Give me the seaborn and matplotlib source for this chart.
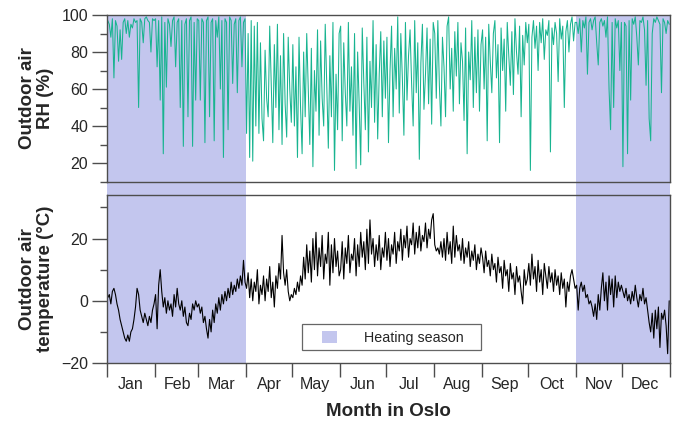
import numpy as np
import pandas as pd
import matplotlib
matplotlib.use('Agg')
import matplotlib.pyplot as plt
import matplotlib.dates as mdates
import matplotlib.transforms as mtransforms
from matplotlib.patches import Rectangle, Patch
from matplotlib.ticker import NullFormatter
import seaborn as sns

# daily values (one per day, 365-day year)
rh = [
    97, 95, 88, 98, 66, 97, 94, 75, 92, 76, 96, 98, 90, 97, 88, 95, 93, 98, 96, 97, 50, 98, 96, 85, 98, 99, 97, 96, 80, 98, 97,  # Jan
    98, 72, 97, 54, 99, 25, 96, 61, 98, 95, 83, 97, 99, 72, 96, 98, 50, 97, 29, 95, 98, 45, 97, 99, 29, 96, 54, 98,  # Feb
    97, 54, 98, 96, 31, 97, 99, 45, 96, 98, 32, 97, 88, 99, 60, 97, 23, 98, 96, 38, 99, 97, 63, 95, 98, 58, 97, 99, 72, 96, 98,  # Mar
    36, 90, 23, 97, 21, 94, 40, 96, 36, 85, 44, 32, 81, 55, 45, 94, 62, 31, 84, 50, 95, 38, 78, 30, 90, 52, 34, 88, 60, 42,  # Apr
    84, 40, 72, 23, 88, 50, 25, 80, 45, 90, 60, 30, 82, 18, 70, 48, 92, 35, 86, 55, 40, 95, 62, 28, 78, 45, 96, 16, 68, 38, 90,  # May
    94, 32, 85, 58, 40, 96, 48, 72, 35, 90, 17, 80, 52, 19, 93, 64, 38, 88, 26, 75, 50, 97, 42, 84, 33, 68, 91, 45, 86, 55,  # Jun
    88, 31, 70, 94, 45, 82, 60, 99, 47, 90, 66, 35, 96, 54, 78, 92, 63, 40, 97, 58, 85, 22, 74, 95, 49, 68, 93, 52, 87, 41, 96,  # Jul
    90, 55, 97, 62, 40, 88, 72, 45, 94, 99, 60, 82, 48, 91, 67, 96, 52, 85, 75, 43, 93, 25, 80, 65, 97, 50, 88, 58, 92, 48, 84,  # Aug
    92, 60, 88, 32, 95, 75, 58, 90, 97, 66, 84, 31, 93, 70, 87, 48, 96, 78, 62, 91, 57, 98, 80, 68, 94, 45, 89, 73, 96, 85,  # Sep
    95, 16, 88, 97, 82, 94, 70, 96, 85, 98, 76, 92, 89, 97, 26, 93, 84, 96, 90, 64, 98, 87, 94, 50, 91, 97, 80, 95, 99, 86, 96,  # Oct
    96, 90, 98, 80, 97, 93, 99, 68, 96, 98, 92, 97, 99, 85, 73, 96, 98, 94, 97, 88, 99, 60, 38, 96, 50, 98, 93, 97, 70, 96,  # Nov
    18, 96, 94, 25, 97, 54, 98, 95, 99, 88, 73, 97, 96, 99, 92, 62, 97, 44, 32, 90, 98, 96, 99, 97, 95, 58, 98, 96, 90, 97, 95,  # Dec
]

temp = [
    1, 2, -1, 3, 4, 2, -1, -3, -6, -8, -10, -12, -13, -11, -13, -10, -9, -6, -2, 4, 2, -3, -5, -7, -4, -6, -8, -5, -7, -3, -1,  # Jan
    2, -9, 5, 10, 3, -2, 1, -4, 0, -3, -1, -5, 2, -2, 4, -1, -3, 0, -5, -2, -7, -8, -4, -6, -1, -3, 0, -2,  # Feb
    -1, -4, -2, -7, -5, -9, -12, -6, -10, -3, -7, -1, -4, 1, -3, 2, -1, 3, 0, 4, 1, 6, 2, 5, 3, 7, 4, 8, 5, 13, 6,  # Mar
    4, 9, 1, 7, 0, 6, 3, 10, -1, 5, 2, 8, 0, 7, 3, 11, 1, 6, -2, 8, 4, 12, 7, 21, 9, 5, 10, 3, 0, 2,  # Apr
    1, 4, 2, 6, 3, 8, 5, 14, 7, 18, 9, 16, 6, 20, 10, 22, 8, 17, 11, 21, 7, 15, 12, 22, 5, 18, 9, 20, 11, 16, 8,  # May
    10, 19, 7, 17, 12, 21, 9, 15, 13, 20, 8, 18, 11, 22, 14, 19, 10, 23, 12, 26, 15, 20, 11, 18, 13, 21, 10, 17, 14, 22,  # Jun
    13, 20, 11, 18, 15, 22, 12, 19, 16, 23, 13, 21, 17, 24, 14, 20, 18, 25, 15, 22, 17, 24, 16, 21, 19, 25, 17, 23, 20, 26, 28,  # Jul
    18, 16, 17, 15, 19, 14, 20, 13, 22, 15, 19, 12, 24, 14, 21, 16, 18, 13, 20, 12, 17, 14, 19, 11, 16, 13, 18, 10, 15, 12, 17,  # Aug
    14, 9, 16, 11, 13, 8, 15, 10, 12, 6, 14, 9, 11, 4, 13, 8, 10, 3, 12, 7, 9, 2, 11, 6, 8, 3, -1, 10, 5, 7,  # Sep
    12, 5, 15, 7, 11, 3, 13, 6, 10, 2, 12, 8, 4, 11, 6, 9, 3, 10, 5, 8, 2, 9, 4, 7, -2, 6, 3, 8, 10, 7, 4,  # Oct
    5, -3, 4, 6, 3, 5, 1, 2, -1, 0, -2, -5, -1, -6, 2, -3, 4, 9, 0, 6, -3, 8, 2, 7, -2, 8, 1, 6, 3, 5,  # Nov
    3, 1, 4, 0, 2, -1, 3, 0, 5, 1, -2, 2, 0, 4, -1, 1, -3, -7, -10, -4, -12, -3, -9, -2, -15, -4, -6, -3, -8, -17, 0,  # Dec
]

heating_season = [('2019-01-01', '2019-04-01'), ('2019-11-01', '2020-01-01')]

shade = '#c3c6ee'
teal = '#18b490'
edge = '#4d4d4d'

df = pd.DataFrame({
    'date': pd.date_range('2019-01-01 12:00', periods=len(rh), freq='D'),
    'rh': rh,
    'temp': temp,
})

sns.set_style('ticks')
plt.rcParams['font.family'] = ['Liberation Sans', 'DejaVu Sans']

fig = plt.figure(figsize=(6.81, 4.29), dpi=100)
ax1 = fig.add_axes([0.1571, 0.5769, 0.8267, 0.3881])
ax2 = fig.add_axes([0.1571, 0.1538, 0.8267, 0.3917], sharex=ax1)

# heating season bands run through both panels and the gap between them
trans = mtransforms.blended_transform_factory(ax2.transData, fig.transFigure)
for start, end in heating_season:
    x0 = mdates.date2num(pd.Timestamp(start))
    x1 = mdates.date2num(pd.Timestamp(end))
    fig.add_artist(Rectangle((x0, 0.1538), x1 - x0, 0.965 - 0.1538, transform=trans,
                             facecolor=shade, edgecolor='none', zorder=-1))

sns.lineplot(data=df, x='date', y='rh', ax=ax1, color=teal, linewidth=0.75)
sns.lineplot(data=df, x='date', y='temp', ax=ax2, color='black', linewidth=0.8)

for ax in (ax1, ax2):
    ax.set_facecolor('none')
    for s in ax.spines.values():
        s.set_visible(True)
        s.set_color(edge)
        s.set_linewidth(1.0)
    ax.tick_params(axis='y', which='major', length=10.5, width=1, color=edge, labelsize=11.5, pad=3)
    ax.tick_params(axis='y', which='minor', length=5, width=1, color=edge)

ax1.set_ylim(10, 100)
ax1.set_yticks([20, 40, 60, 80, 100])
ax1.set_yticks([10, 30, 50, 70, 90], minor=True)
ax2.set_ylim(-20, 34)
ax2.set_yticks([-20, 0, 20])
ax2.set_yticks([-10, 10, 30], minor=True)
ax2.set_yticklabels(['\u221220', '0', '20'])

ax2.set_xlim(pd.Timestamp('2019-01-01'), pd.Timestamp('2020-01-01'))
ax2.xaxis.set_major_locator(mdates.MonthLocator())
ax2.xaxis.set_major_formatter(NullFormatter())
ax2.xaxis.set_minor_locator(mdates.MonthLocator(bymonthday=16))
ax2.xaxis.set_minor_formatter(mdates.DateFormatter('%b'))
ax2.tick_params(axis='x', which='major', length=10, width=1, color=edge)
ax2.tick_params(axis='x', which='minor', length=0, pad=10, labelsize=11.5)
ax1.tick_params(axis='x', which='both', bottom=False, labelbottom=False)

ax1.set_xlabel('')
ax1.set_ylabel('Outdoor air\nRH (%)', fontsize=13.5, fontweight='bold', linespacing=1.05)
ax2.set_ylabel('Outdoor air\ntemperature (\u00b0C)', fontsize=13.5, fontweight='bold', linespacing=1.05)
ax1.yaxis.set_label_coords(-0.095, 0.5)
ax2.yaxis.set_label_coords(-0.095, 0.5)
ax2.set_xlabel('Month in Oslo', fontsize=13.5, fontweight='bold')
ax2.xaxis.set_label_coords(0.5, -0.24)

# legend box
ax2.add_patch(Rectangle((0.3464, 0.0774), 0.3179, 0.1547, transform=ax2.transAxes,
                        facecolor='white', edgecolor='#666666', linewidth=0.9, zorder=4))
leg = ax2.legend(handles=[Patch(facecolor=shade, edgecolor='none')], labels=['Heating season'],
                 loc='center left', bbox_to_anchor=(0.3819, 0.1518), frameon=False,
                 borderpad=0, borderaxespad=0, handlelength=1.05, handleheight=0.9,
                 handletextpad=1.9, fontsize=10.3)
leg.set_zorder(5)

fig.savefig('out.png', dpi=100)
